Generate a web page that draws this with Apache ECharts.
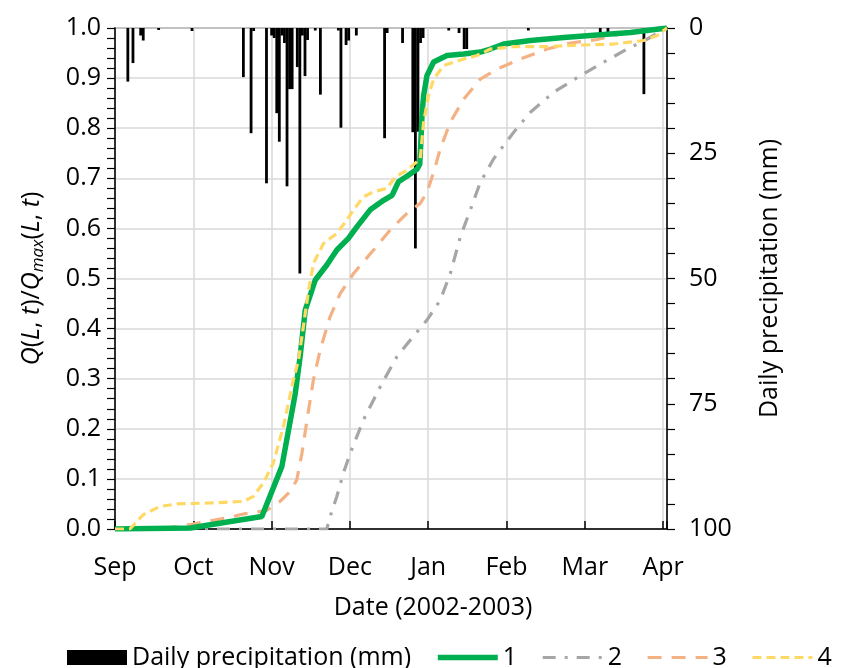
<!DOCTYPE html>
<html><head><meta charset="utf-8">
<script src="https://cdn.jsdelivr.net/npm/echarts@6/dist/echarts.min.js"></script>
<style>html,body{margin:0;padding:0;background:#fff}#c{width:841px;height:668px}</style>
</head><body><div id="c"></div>
<script>
// x axis: days since 1 Sep 2002; month ticks every 30.5 days
const monthLabels = ['Sep','Oct','Nov','Dec','Jan','Feb','Mar','Apr'];
const monthStep = 30.5;
const xMax = 215;

// Daily precipitation (mm), hanging from top (right axis, inverted)
const precipDays = [5,7,10,11,17,30,50,53,54,59,61,62,63,64,65,66,67,68,69,71,72,73,74,75,78,80,87,88,90,91,94,105,106,112,116,117,118,119,120,130,134,136,137,161,189,192,206];
const precipMm   = [10.7,7.0,1.5,2.5,0.4,0.6,9.8,21,0.6,31,1.5,2,17,22.7,1.5,3,31.6,12.2,12.2,7.8,49,1.5,9.6,2.4,0.5,13.3,0.5,19.9,3.4,2.5,1.5,22,1,3,20.8,44,20.7,3,2,0.5,1,4.2,4.2,0.5,1,1,13.2];

// Series 1 (green)
const s1Days = [0,29.2,57.2,65.0,70.2,72.1,74.1,75.4,78.0,82.5,83.8,86.4,90.9,94.2,99.4,104.6,107.9,110.4,113.7,117.6,118.7,119.2,119.6,120.2,121.5,124.1,129.3,135.8,142.3,146.2,151.4,161.8,174.8,187.8,200.8,215];
const s1Vals = [0,0.002,0.025,0.125,0.27,0.344,0.437,0.457,0.497,0.527,0.537,0.557,0.58,0.603,0.637,0.656,0.666,0.693,0.704,0.718,0.728,0.78,0.83,0.865,0.905,0.932,0.945,0.948,0.952,0.958,0.968,0.975,0.981,0.986,0.991,1.0];

// Series 2 (grey dash-dot)
const s2Days = [0,82.5,83.8,86.4,89.0,91.6,96.8,103.3,109.8,115.0,121.5,126.7,130.6,134.5,138.4,142.3,147.5,155.3,161.8,170.9,181.3,190.4,199.5,207.3,215];
const s2Vals = [0,0,0.025,0.065,0.112,0.151,0.218,0.284,0.344,0.377,0.417,0.457,0.51,0.583,0.637,0.692,0.739,0.792,0.832,0.872,0.905,0.932,0.958,0.978,1.0];

// Series 3 (orange dashed)
const s3Days = [0,17.5,30.5,43.5,50.0,59.1,64.3,68.2,70.8,72.8,75.4,77.3,79.9,83.8,87.7,92.9,100.7,107.2,113.7,118.9,121.5,124.1,126.7,130.6,135.8,142.3,148.8,157.9,168.3,177.4,187.8,196.9,206.0,215];
const s3Vals = [0,0,0.01,0.022,0.03,0.037,0.055,0.075,0.098,0.151,0.238,0.298,0.357,0.424,0.47,0.51,0.557,0.597,0.63,0.65,0.672,0.712,0.759,0.812,0.858,0.898,0.918,0.938,0.958,0.97,0.977,0.988,0.994,1.0];

// Series 4 (yellow dashed)
const s4Days = [0,5.8,11.0,17.5,24.1,37.0,50.0,53.9,57.8,61.7,65.6,69.5,71.5,72.8,75.4,77.3,81.2,86.4,90.3,92.9,96.8,100.7,105.9,109.2,113.7,118.9,120.2,122.1,124.1,128.0,135.8,141.0,146.2,155.3,168.3,181.3,194.3,206.0,211.2,215];
const s4Vals = [0,0,0.0285,0.045,0.05,0.052,0.055,0.065,0.092,0.132,0.205,0.298,0.338,0.384,0.477,0.53,0.57,0.59,0.617,0.637,0.663,0.673,0.68,0.703,0.716,0.739,0.812,0.865,0.898,0.925,0.938,0.945,0.958,0.963,0.963,0.966,0.968,0.975,0.985,1.0];

const zip = (a, b) => a.map((v, i) => [v, b[i]]);
const FONT = 'Open Sans';
const FS = 25;
const C1 = '#00b050', C2 = '#a6a6a6', C3 = '#f4b183', C4 = '#ffd966';

const chart = echarts.init(document.getElementById('c'));
chart.setOption({
  animation: false,
  textStyle: {fontFamily: FONT},
  grid: {left: 115, right: 174, top: 28, bottom: 139, show: true, borderColor: '#000', borderWidth: 1.2, backgroundColor: 'transparent'},
  legend: {
    left: 67, top: 645, padding: 0, itemWidth: 60, itemHeight: 15, itemGap: 24,
    textStyle: {fontFamily: FONT, fontSize: FS, color: '#000'},
    data: [
      {name: 'Daily precipitation (mm)', icon: 'rect'},
      {name: '1', itemStyle: {opacity: 0}, lineStyle: {width: 5.5, color: C1}},
      {name: '2', itemStyle: {opacity: 0}, lineStyle: {width: 3.2, color: C2}},
      {name: '3', itemStyle: {opacity: 0}, lineStyle: {width: 3.2, color: C3}},
      {name: '4', itemStyle: {opacity: 0}, lineStyle: {width: 3.2, color: C4}}
    ]
  },
  xAxis: {
    type: 'value', min: 0, max: xMax, interval: monthStep,
    axisLine: {lineStyle: {color: '#000', width: 1.5}},
    axisTick: {inside: true, length: 8, lineStyle: {color: '#000', width: 1.5}},
    axisLabel: {
      formatter: v => { const i = Math.round(v / monthStep); return Math.abs(v - i * monthStep) < 0.01 ? monthLabels[i] : ''; },
      margin: 26, fontSize: FS, color: '#000', fontFamily: FONT, showMaxLabel: true
    },
    splitLine: {show: true, lineStyle: {color: '#d9d9d9', width: 1.5}},
    name: 'Date (2002-2003)', nameLocation: 'middle', nameGap: 66,
    nameTextStyle: {fontSize: FS, color: '#000', fontFamily: FONT, padding: [0, 0, 0, 84]}
  },
  yAxis: [
    {
      type: 'value', min: 0, max: 1, interval: 0.1, position: 'left',
      axisLine: {show: true, lineStyle: {color: '#000', width: 1.5}},
      axisTick: {show: true, inside: false, length: 8, lineStyle: {color: '#000', width: 1.2}},
      minorTick: {show: true, splitNumber: 5, length: 8, lineStyle: {color: '#000', width: 1.2}},
      axisLabel: {formatter: v => v.toFixed(1), fontSize: FS, color: '#000', margin: 14, fontFamily: FONT},
      splitLine: {show: true, lineStyle: {color: '#d9d9d9', width: 1.5}},
      minorSplitLine: {show: false},
      name: '{i|Q}({i|L}, {i|t})/{i|Q}{s|max}({i|L}, {i|t})',
      nameLocation: 'middle', nameRotate: 90, nameGap: 68,
      nameTextStyle: {
        fontSize: FS, color: '#000', fontFamily: FONT,
        rich: {
          i: {fontStyle: 'italic', fontSize: FS, fontFamily: FONT, color: '#000'},
          s: {fontStyle: 'italic', fontSize: 17, fontFamily: FONT, color: '#000', padding: [14, 0, 0, 0]}
        }
      }
    },
    {
      type: 'value', min: 0, max: 100, interval: 25, inverse: true, position: 'right',
      axisLine: {show: true, lineStyle: {color: '#000', width: 1.5}},
      axisTick: {show: true, inside: false, length: 8, lineStyle: {color: '#000', width: 1.2}},
      minorTick: {show: true, splitNumber: 5, length: 8, lineStyle: {color: '#000', width: 1.2}},
      axisLabel: {fontSize: FS, color: '#000', margin: 22, fontFamily: FONT},
      splitLine: {show: false},
      name: 'Daily precipitation (mm)', nameLocation: 'middle', nameRotate: 90, nameGap: 90,
      nameTextStyle: {fontSize: FS, color: '#000', fontFamily: FONT}
    }
  ],
  series: [
    {name: 'Daily precipitation (mm)', type: 'bar', yAxisIndex: 1, barWidth: 2.8,
     itemStyle: {color: '#000'}, data: zip(precipDays, precipMm), z: 1},
    {name: '1', type: 'line', symbol: 'none', data: zip(s1Days, s1Vals), z: 5,
     lineStyle: {color: C1, width: 5.5}, itemStyle: {color: C1}},
    {name: '2', type: 'line', symbol: 'none', data: zip(s2Days, s2Vals), z: 3,
     lineStyle: {color: C2, width: 3.2, type: [13, 9, 3, 9]}, itemStyle: {color: C2}},
    {name: '3', type: 'line', symbol: 'none', data: zip(s3Days, s3Vals), z: 3,
     lineStyle: {color: C3, width: 3.2, type: [14, 10]}, itemStyle: {color: C3}},
    {name: '4', type: 'line', symbol: 'none', data: zip(s4Days, s4Vals), z: 6,
     lineStyle: {color: C4, width: 3.2, type: [9, 5]}, itemStyle: {color: C4}}
  ]
});
</script>
</body></html>
